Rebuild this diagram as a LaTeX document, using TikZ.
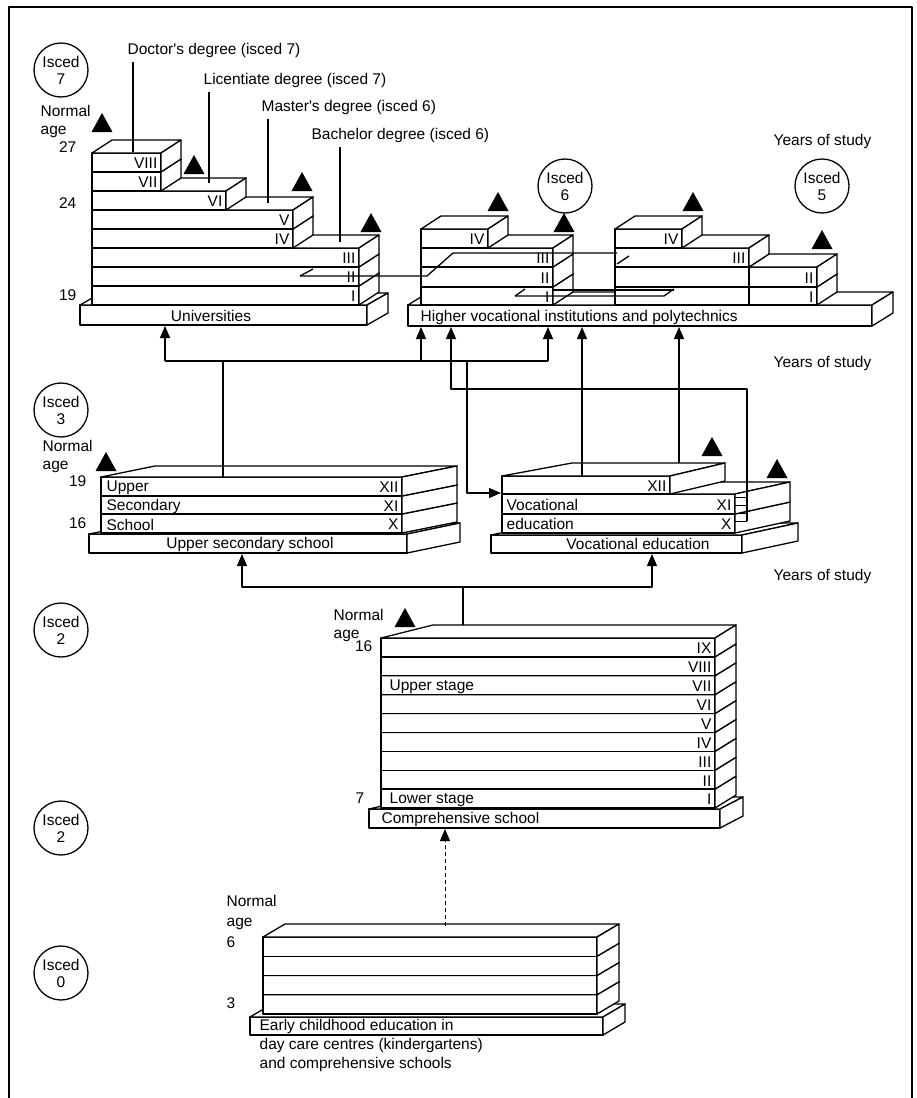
\documentclass[tikz,border=0pt]{standalone}
\usepackage{fontspec}
\setmainfont{Liberation Sans}
\usetikzlibrary{arrows.meta}
% one year of study: left x, right x, top y, bottom y, left depth, right depth, rise
\newcommand{\rowbox}[7]{%
  \filldraw[fill=white] (#1,#3) -- (#2,#3) -- (#2,#4) -- (#1,#4) -- cycle;
  \filldraw[fill=white] (#1,#3) -- (#1+#5,#3-#7) -- (#2+#6,#3-#7) -- (#2,#3) -- cycle;
  \filldraw[fill=white] (#2,#3) -- (#2+#6,#3-#7) -- (#2+#6,#4-#7) -- (#2,#4) -- cycle;
}
\tikzset{
  flow/.style={-{Triangle[width=10pt,length=12pt]}, line width=1.3pt},
  isced/.style={circle, draw, line width=1.3pt, minimum size=54pt, inner sep=0pt, align=center, font=\fontsize{15.5}{17}\selectfont},
  lbl/.style={inner sep=0pt, font=\fontsize{15.5}{18}\selectfont},
}

\begin{document}
\begin{tikzpicture}[x=1pt, y=-1pt, line width=1.3pt, line join=round]
  \useasboundingbox (0,0) rectangle (917,1098);

  % Frame
  \draw[line width=2pt] (9,1098) -- (9,7) -- (912,7) -- (912,1098);

  % ISCED levels
  \node[isced] (i7) at (61,70) {Isced\\7};
  \node[isced] (i6) at (565,186) {Isced\\6};
  \node[isced] (i5) at (822,186) {Isced\\5};
  \node[isced] (i3) at (61,410) {Isced\\3};
  \node[isced] (i2a) at (61,630) {Isced\\2};
  \node[isced] (i2b) at (61,828) {Isced\\2};
  \node[isced] (i0) at (61,973) {Isced\\0};

  \node[lbl, anchor=west] (ys1) at (773,141) {Years of study};
  \node[lbl, anchor=west] (ys2) at (773,363) {Years of study};
  \node[lbl, anchor=west] (ys3) at (773,576) {Years of study};

  % Universities
  \rowbox{80}{367}{305}{325}{21}{21}{12}
  \node[lbl] (univ) at (211,316) {Universities};
  \foreach \yt/\xr/\lab in {286/359/I, 267/359/II, 248/359/III, 229/293/IV, 210/293/V, 191/226/VI, 172/161/VII, 153/161/VIII} {
    \rowbox{92}{\xr}{\yt}{\yt+19}{20}{20}{13}
    \node[lbl, anchor=east] (u\lab) at (\xr-3,\yt+10) {\lab};
  }
  \node[lbl, anchor=west, align=left] (na1) at (40,121) {Normal\\age};
  \node[lbl, anchor=east] (a27) at (77,147) {27};
  \node[lbl, anchor=east] (a24) at (77,203) {24};
  \node[lbl, anchor=east] (a19) at (77,295) {19};

  % Degrees
  \node[lbl, anchor=west] (phd) at (127,50) {Doctor\textquotesingle s degree (isced 7)};
  \node[lbl, anchor=west] (lic) at (203,80) {Licentiate degree (isced 7)};
  \node[lbl, anchor=west] (msc) at (261,107) {Master\textquotesingle s degree (isced 6)};
  \node[lbl, anchor=west] (bsc) at (311,135) {Bachelor degree (isced 6)};
  \coordinate (phd-end) at (133,152);
  \coordinate (lic-end) at (209,183);
  \coordinate (msc-end) at (268,203);
  \coordinate (bsc-end) at (340,242);
  \draw[shorten <=4pt] (phd.south -| phd-end) -- (phd-end);
  \draw[shorten <=4pt] (lic.south -| lic-end) -- (lic-end);
  \draw[shorten <=4pt] (msc.south -| msc-end) -- (msc-end);
  \draw[shorten <=4pt] (bsc.south -| bsc-end) -- (bsc-end);

  % Higher vocational institutions and polytechnics
  \rowbox{408}{872}{305}{326}{21}{21}{13}
  \node[lbl, anchor=west] (poly) at (420,317) {Higher vocational institutions and polytechnics};
  \foreach \yt/\yb/\xr/\lab in {287/305/553/I, 267/287/553/II, 248/267/553/III, 229/248/488/IV} {
    \rowbox{421}{\xr}{\yt}{\yb}{20}{20}{13}
    \node[lbl, anchor=east] (pl\lab) at (\xr-3,{(\yt+\yb)/2+1}) {\lab};
  }
  \rowbox{615}{749}{287}{305}{20}{20}{13}
  \rowbox{749}{817}{287}{305}{20}{20}{13}
  \rowbox{615}{749}{267}{287}{20}{20}{13}
  \rowbox{749}{817}{267}{287}{20}{20}{13}
  \rowbox{615}{749}{248}{267}{20}{20}{13}
  \rowbox{615}{682}{229}{248}{20}{20}{13}
  \node[lbl, anchor=east] (prI) at (814,297) {I};
  \node[lbl, anchor=east] (prII) at (814,278) {II};
  \node[lbl, anchor=east] (prIII) at (746,258) {III};
  \node[lbl, anchor=east] (prIV) at (679,239) {IV};

  % Transfers between the stacks
  \draw (300,276) -- (427,276) -- (453,253) -- (617,253);
  \draw (300,276) -- (313,269);
  \draw (617,264) -- (629,256);
  \draw (515,296) -- (664,296) -- (674,289);
  \draw (515,296) -- (525,289);
  \draw (553,290) -- (674,290);

  % Upper secondary school
  \rowbox{89}{407}{534}{553}{54}{53}{11}
  \node[lbl] (usec) at (250,544) {Upper secondary school};
  \foreach \yt/\yb/\lab/\txt in {514/533/X/School, 496/514/XI/Secondary, 477/496/XII/Upper} {
    \rowbox{101}{402}{\yt}{\yb}{54}{55}{11}
    \node[lbl, anchor=east] (s\lab) at (399,{(\yt+\yb)/2+1}) {\lab};
    \node[lbl, anchor=west] (t\lab) at (106,{(\yt+\yb)/2+1}) {\txt};
  }
  \node[lbl, anchor=west, align=left] (na2) at (42,456) {Normal\\age};
  \node[lbl, anchor=east] (b19) at (87,481) {19};
  \node[lbl, anchor=east] (b16) at (87,523) {16};

  % Vocational education
  \rowbox{491}{742}{535}{553}{56}{56}{12}
  \node[lbl] (voc) at (638,544) {Vocational education};
  \rowbox{502}{735}{514}{533}{55}{55}{12}
  \rowbox{502}{735}{494}{514}{55}{55}{12}
  \rowbox{502}{670}{476}{494}{70}{55}{13}
  \node[lbl, anchor=east] (vX) at (732,524) {X};
  \node[lbl, anchor=east] (vXI) at (732,505) {XI};
  \node[lbl, anchor=east] (vXII) at (667,486) {XII};
  \node[lbl, anchor=west] (vt1) at (506,505) {Vocational};
  \node[lbl, anchor=west] (vt2) at (506,524) {education};
  \foreach \y in {497,505,513,521}
    \draw[line width=0.9pt] (735,\y) -- (747,\y);

  % Comprehensive school
  \rowbox{369}{720}{809}{828}{52}{23}{12}
  \node[lbl, anchor=west] (comp) at (381,819) {Comprehensive school};
  \foreach \i/\lab in {0/I, 1/II, 2/III, 3/IV, 4/V, 5/VI, 6/VII, 7/VIII, 8/IX} {
    \pgfmathsetmacro{\yt}{808-(\i+1)*18.89}
    \pgfmathsetmacro{\yb}{808-\i*18.89}
    \rowbox{381}{715}{\yt}{\yb}{52}{21}{13}
    \node[lbl, anchor=east] (c\lab) at (712,{(\yt+\yb)/2+1}) {\lab};
  }
  \node[lbl, anchor=west] (upst) at (389,687) {Upper stage};
  \node[lbl, anchor=west] (lost) at (389,800) {Lower stage};
  \node[lbl, anchor=west, align=left] (na3) at (333,625) {Normal\\age};
  \node[lbl, anchor=east] (c16) at (373,646) {16};
  \node[lbl, anchor=east] (c7) at (365,798) {7};

  % Early childhood education
  \rowbox{250}{603}{1017}{1035}{22}{22}{13}
  \foreach \i in {0,...,3} {
    \pgfmathsetmacro{\yt}{1014-(\i+1)*19.25}
    \pgfmathsetmacro{\yb}{1014-\i*19.25}
    \rowbox{263}{597}{\yt}{\yb}{22}{22}{13}
  }
  \node[lbl, anchor=north west, align=left, font=\fontsize{15.5}{19}\selectfont] (early) at (259,1019)
    {Early childhood education in\\day care centres (kindergartens)\\and comprehensive schools};
  \node[lbl, anchor=west, align=left, font=\fontsize{15.5}{20}\selectfont] (na4) at (226,912) {Normal\\age};
  \node[lbl, anchor=west] (e6) at (226,942) {6};
  \node[lbl, anchor=west] (e3) at (226,1003) {3};

  % Completion markers
  \foreach \x/\y in {102/113, 194/155, 302/172, 371/213, 498/192, 564/213, 693/192, 822/230,
                     106/452, 712/437, 777/459, 405/608}
    \fill (\x-10.5,\y+19) -- (\x+10.5,\y+19) -- (\x,\y) -- cycle;

  % Routes into higher education
  \coordinate (ul) at (165,361);
  \coordinate (ur) at (548,361);
  \coordinate (hub) at (223,361);
  \coordinate (us-top) at (223,477);
  \coordinate (univ-a) at (165,326);
  \coordinate (poly-a) at (421,327);
  \coordinate (poly-b) at (451,327);
  \coordinate (poly-c) at (548,327);
  \coordinate (poly-d) at (582,327);
  \coordinate (poly-e) at (679,327);
  \coordinate (jb) at (451,389);
  \coordinate (jc) at (467,361);
  \coordinate (voc-in) at (501,493);
  \coordinate (voc-side) at (747,521);
  \coordinate (voc-top1) at (582,476);
  \coordinate (voc-top2) at (679,463);
  \draw (us-top) -- (hub);
  \draw (ul) -- (ur);
  \draw[flow] (ul) -- (univ-a);
  \draw[flow] (ul -| poly-a) -- (poly-a);
  \draw[flow] (ur) -- (poly-c);
  \draw[flow] (voc-side) |- (jb) -- (poly-b);
  \draw[flow] (jc) |- (voc-in);
  \draw[flow] (voc-top1) -- (poly-d);
  \draw[flow] (voc-top2) -- (poly-e);

  % Routes into upper secondary level
  \coordinate (comp-top) at (463,625);
  \coordinate (jd) at (463,587);
  \coordinate (us-in) at (242,554);
  \coordinate (ve-in) at (652,554);
  \coordinate (ec-top) at (445,926);
  \coordinate (comp-in) at (445,829);
  \draw (comp-top) -- (jd);
  \draw[flow] (jd) -| (us-in);
  \draw[flow] (jd) -| (ve-in);
  \draw[flow, line width=0.8pt, dash pattern=on 4pt off 3pt] (ec-top) -- (comp-in);
\end{tikzpicture}
\end{document}
